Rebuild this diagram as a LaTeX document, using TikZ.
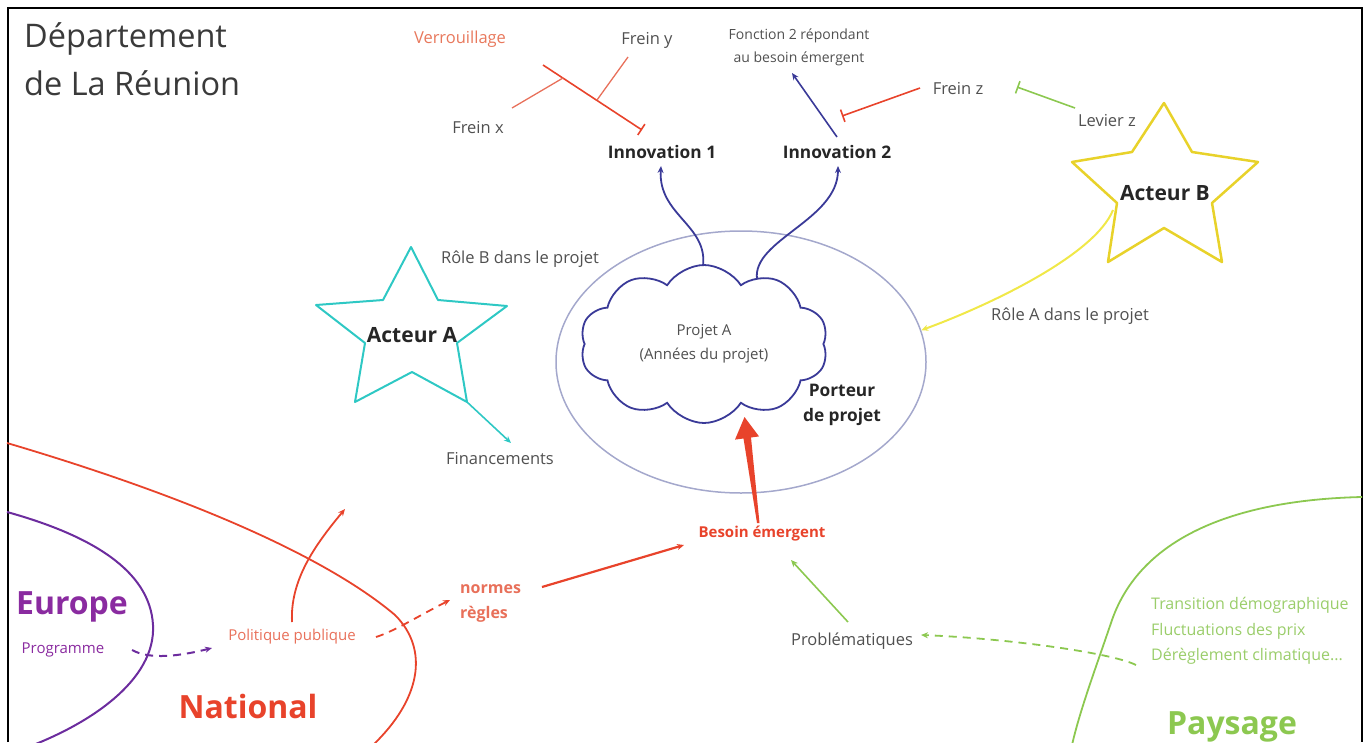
\documentclass[tikz,border=0pt]{standalone}
\usepackage{fontspec}
\setmainfont{Open Sans}
\usetikzlibrary{arrows.meta,shapes.symbols,shapes.geometric}
\definecolor{txt}{HTML}{505050}
\definecolor{dark}{HTML}{262626}
\definecolor{titlec}{HTML}{3A3A3A}
\definecolor{verr}{HTML}{E8785C}
\definecolor{redc}{HTML}{E8432B}
\definecolor{redl}{HTML}{E8705A}
\definecolor{purpt}{HTML}{8A2BA0}
\definecolor{purpc}{HTML}{6C2C9E}
\definecolor{greenc}{HTML}{8CC850}
\definecolor{greent}{HTML}{9ACD6A}
\definecolor{cyanc}{HTML}{2EC8C4}
\definecolor{yellowc}{HTML}{F0E848}
\definecolor{goldc}{HTML}{E8D22A}
\definecolor{cblue}{HTML}{3A3A98}
\definecolor{ellc}{HTML}{A4A8CC}
\begin{document}
\begin{tikzpicture}[x=1pt,y=-1pt,
  lab/.style={font=\fontsize{16.5}{25}\selectfont, text=txt, inner sep=1pt},
  slab/.style={font=\fontsize{15}{24}\selectfont, text=txt, inner sep=1pt},
  blab/.style={font=\bfseries\fontsize{17.3}{25}\selectfont, text=dark, inner sep=1pt},
  big/.style={font=\bfseries\fontsize{32}{38}\selectfont, inner sep=1pt},
  arr/.style={-{Stealth[length=7pt,width=6pt]}},
  tbar/.style={-{Bar[width=13pt]}},
  dsh/.style={dash pattern=on 8pt off 6pt},
]
\useasboundingbox (0,0) rectangle (1371,742);
\draw[line width=2pt] (8,742) -- (8,8) -- (1362,8) -- (1362,742);

% title
\node[anchor=base west, font=\fontsize{32.5}{38}\selectfont, text=titlec, inner sep=0pt] (t1) at (24,47) {Département};
\node[anchor=base west, font=\fontsize{32.5}{38}\selectfont, text=titlec, inner sep=0pt] (t2) at (24,95) {de La Réunion};

% top labels
\node[lab, text=verr, anchor=base] (verr) at (460,43) {Verrouillage};
\node[lab, anchor=base] (freiny) at (647,44) {Frein y};
\node[lab, anchor=base] (freinx) at (478,133) {Frein x};
\node[blab, anchor=base] (inno1) at (662,158) {Innovation 1};
\node[blab, anchor=base] (inno2) at (837,158) {Innovation 2};
\node[font=\fontsize{14}{23}\selectfont, text=txt, align=center, inner sep=1pt] (fonc) at (799,47) {Fonction 2 répondant\\au besoin émergent};
\node[lab, anchor=base] (freinz) at (958,94) {Frein z};
\node[lab, anchor=base] (levier) at (1107,126) {Levier z};

% verrouillage lines
\coordinate (v1) at (543,65);
\coordinate (v2) at (642,130);
\coordinate (vx1) at (512,108);
\coordinate (vx2) at (563,78);
\coordinate (vy1) at (628,57);
\coordinate (vy2) at (597,100);
\draw[redc, line width=1.6pt, tbar] (v1) -- (v2);
\draw[redl, line width=1.3pt] (vx1) -- (vx2);
\draw[redl, line width=1.3pt] (vy1) -- (vy2);

% frein z / levier z / fonction
\coordinate (fz1) at (920,88);
\coordinate (fz2) at (842,116);
\draw[redc, line width=1.6pt, tbar] (fz1) -- (fz2);
\coordinate (lz1) at (1075,108);
\coordinate (lz2) at (1017,87);
\draw[greenc, line width=1.6pt, tbar] (lz1) -- (lz2);
\coordinate (i2top) at (837,137);
\coordinate (foncb) at (792,73);
\draw[cblue, line width=1.6pt, arr] (i2top) -- (foncb);

% ellipse and cloud
\node[ellipse, draw=ellc, line width=1.5pt, minimum width=370, minimum height=262, inner sep=0pt] (ell) at (741,362) {};
\node[cloud, cloud puffs=10, cloud puff arc=115, aspect=1.6, draw=cblue, line width=1.8pt, fill=white,
      minimum width=248, minimum height=158, inner sep=0pt,
      font=\fontsize{15}{24}\selectfont, text=txt, align=center] (cloud) at (704,344) {Projet A\\(Années du projet)};
\node[blab, align=center] (porteur) at (842,405) {Porteur\\de projet};

% innovation curves
\coordinate (c1) at (703,266);
\coordinate (c2) at (757,279);
\coordinate (i1b) at (661,166);
\coordinate (i2b) at (838,166);
\draw[cblue, line width=1.8pt, arr] (c1) .. controls (708,225) and (658,215) .. (i1b);
\draw[cblue, line width=1.8pt, arr] (c2) .. controls (752,240) and (838,220) .. (i2b);

% Acteur A
\draw[cyanc, line width=2pt, line join=round] (411,247) -- (438,300) -- (507,306) -- (457,343) -- (467,402) -- (412,372) -- (355,402) -- (365,343) -- (316,305) -- (383,300) -- cycle;
\node[font=\bfseries\fontsize{21}{24}\selectfont, text=dark, anchor=base] (acA) at (412,342) {Acteur A};
\node[lab, anchor=base] (roleB) at (520,263) {Rôle B dans le projet};
\node[lab, anchor=base] (fin) at (500,464) {Financements};
\coordinate (aAbr) at (467,402);
\coordinate (finT) at (511,443);
\draw[cyanc, line width=1.6pt, arr] (aAbr) -- (finT);

% Acteur B
\draw[goldc, line width=2.5pt, line join=round] (1164,103) -- (1192,152) -- (1258,162) -- (1212,203) -- (1222,262) -- (1164,228) -- (1108,262) -- (1117,203) -- (1072,162) -- (1132,152) -- cycle;
\node[font=\bfseries\fontsize{21}{24}\selectfont, text=dark, anchor=base] (acB) at (1165,200) {Acteur B};
\node[lab, anchor=base] (roleA) at (1070,320) {Rôle A dans le projet};
\coordinate (aBl) at (1113,210);
\draw[yellowc, line width=2pt, arr] (aBl) .. controls (1095,255) and (990,305) .. (ell.10);

% besoin emergent
\node[font=\bfseries\fontsize{15}{24}\selectfont, text=redc, anchor=base, inner sep=1pt] (besoin) at (762,537) {Besoin émergent};
\fill[redc] (757,523) -- (743.5,438.5) -- (735,439.6) -- (744.5,417) -- (759,436.4) -- (751,437.5) -- (759.5,523) -- cycle;

% normes
\node[font=\bfseries\fontsize{16}{25}\selectfont, text=redl, align=left, anchor=west, inner sep=1pt] (normes) at (459,603) {normes\\règles};
\coordinate (n1) at (542,587);
\coordinate (n2) at (684,545);
\draw[redc, line width=2.2pt, arr] (n1) -- (n2);

% National / Europe
\draw[redc, line width=1.8pt] (7,443) .. controls (200,500) and (330,560) .. (395,615) .. controls (430,650) and (420,700) .. (373,745);
\draw[purpc, line width=2pt] (7,512) .. controls (90,535) and (150,570) .. (153,625) .. controls (156,680) and (90,725) .. (20,750);
\node[big, text=purpt, anchor=base] (europe) at (72,614) {Europe};
\node[big, text=redc, anchor=base] (national) at (248,718) {National};
\node[slab, text=purpt, anchor=base] (prog) at (63,653) {Programme};
\node[slab, text=redl, anchor=base] (polit) at (292,640) {Politique publique};
\coordinate (pg1) at (132,650);
\coordinate (pg2) at (212,648);
\draw[purpc, line width=2pt, dsh, arr] (pg1) .. controls (150,660) and (180,656) .. (pg2);
\coordinate (pp1) at (292,622);
\coordinate (pp2) at (345,509);
\draw[redc, line width=1.8pt, arr] (pp1) .. controls (290,580) and (315,545) .. (pp2);
\coordinate (pd1) at (376,637);
\coordinate (pd2) at (450,600);
\draw[redc, line width=1.8pt, dsh, arr] (pd1) .. controls (395,631) and (420,615) .. (pd2);

% Paysage
\draw[greenc, line width=1.8pt] (1362,497) .. controls (1230,500) and (1140,540) .. (1112,620) .. controls (1095,670) and (1080,710) .. (1072,745);
\node[font=\fontsize{16}{25.5}\selectfont, text=greent, align=left, anchor=west, inner sep=1pt] (pays) at (1150,631) {Transition démographique\\Fluctuations des prix\\Dérèglement climatique...};
\node[big, text=greenc, anchor=base] (paysage) at (1232,734) {Paysage};
\node[lab, anchor=base] (probl) at (852,645) {Problématiques};
\coordinate (pr1) at (848,622);
\coordinate (pr2) at (791,560);
\draw[greenc, line width=1.6pt, arr] (pr1) -- (pr2);
\coordinate (gd1) at (1136,665);
\coordinate (gd2) at (921,635);
\draw[greenc, line width=1.8pt, dsh, arr] (gd1) .. controls (1110,652) and (1000,638) .. (gd2);
\end{tikzpicture}
\end{document}
